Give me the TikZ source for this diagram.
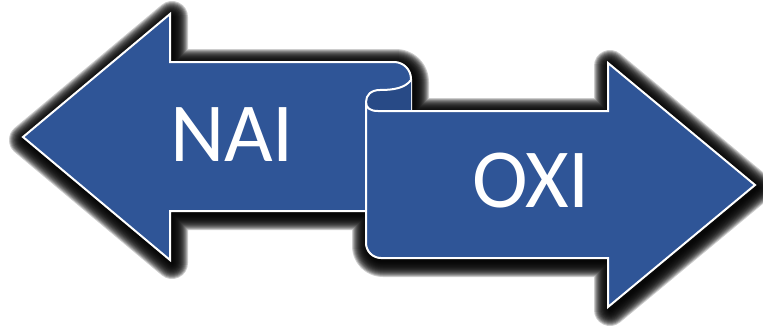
\documentclass[tikz,border=0pt]{standalone}
\usepackage{fontspec}
\setmainfont{Carlito}
\definecolor{arrowblue}{HTML}{2F5597}
\definecolor{curlblue}{HTML}{284A86}
% outlines of the two arrows, in pixel units
\newcommand{\naishape}{(23,137) -- (170,14) -- (170,62) -- (394,62)
  .. controls (403.4,62) and (411,69.6) .. (411,79) -- (411,211)
  -- (170,211) -- (170,260) -- cycle}
\newcommand{\oxishape}{(366,102) -- (366,243)
  .. controls (366,251.3) and (372.7,258) .. (381,258) -- (608,258)
  -- (608,307) -- (755,185) -- (608,63) -- (608,111) -- (378,111)
  .. controls (370,111) and (366,108) .. (366,102) -- cycle}
\begin{document}
\begin{tikzpicture}[x=1pt,y=-1pt,
  arrowfill/.style={fill=arrowblue},
  edge/.style={draw=white,line width=2pt,line join=miter},
  glow/.style={draw=black,draw opacity=0.2,line join=round},
  label/.style={text=white,font=\fontsize{84}{84}\selectfont,inner sep=0pt}]
\useasboundingbox (0,0) rectangle (763,330);
% soft black glow behind both arrows
\foreach \k in {16,15,...,1}
  \draw[glow,line width=2*\k pt,shift={(2,3)}] \naishape \oxishape;
% left arrow
\fill[arrowfill] \naishape;
\draw[edge] (366,211) -- (170,211) -- (170,260) -- (23,137) -- (170,14)
  -- (170,62) -- (394,62) .. controls (403.4,62) and (411,69.6) .. (411,79)
  -- (411,111);
% back of the curl
\fill[curlblue] (411,80) .. controls (405,88) and (394,90) .. (380,90)
  .. controls (371,90) and (366,95) .. (366,102)
  .. controls (366,108) and (370,111) .. (378,111) -- (411,111) -- cycle;
% right arrow
\path[arrowfill,edge] \oxishape;
\draw[edge] (411,80) .. controls (405,88) and (394,90) .. (380,90)
  .. controls (371,90) and (366,95) .. (366,102);
\node[label] (nai) at (232,134.5) {NAI};
\node[label] (oxi) at (531,181) {OXI};
\end{tikzpicture}
\end{document}
